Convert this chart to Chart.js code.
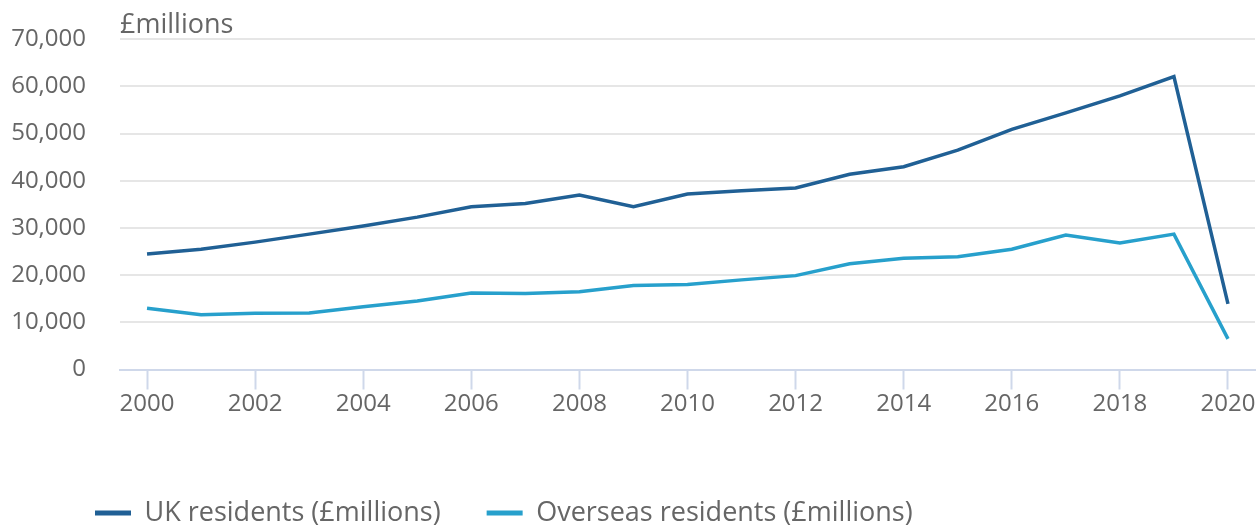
<!DOCTYPE html>
<html>
<head>
<meta charset="utf-8">
<script src="https://cdn.jsdelivr.net/npm/chart.js@4"></script>
<style>
  html, body { margin: 0; padding: 0; background: #fff; }
  #wrap { width: 1259px; height: 526px; position: relative; }
</style>
</head>
<body>
<div id="wrap"><canvas id="c"></canvas></div>
<script>
const years = ['2000','2001','2002','2003','2004','2005','2006','2007','2008','2009','2010',
               '2011','2012','2013','2014','2015','2016','2017','2018','2019','2020'];
const ukResidents = [24500, 25500, 27000, 28700, 30400, 32300, 34500, 35200, 37000, 34500, 37200,
                     37900, 38500, 41400, 43000, 46500, 50900, 54400, 58000, 62100, 13900];
const overseasResidents = [13000, 11600, 11900, 12000, 13300, 14500, 16200, 16100, 16500, 17800, 18000,
                           19000, 19900, 22400, 23600, 23900, 25500, 28500, 26800, 28700, 6500];
const seriesNames = ['UK residents (£millions)', 'Overseas residents (£millions)'];
const yUnitLabel = '£millions';
const yTicks = { min: 0, max: 70000, step: 10000 };

const FONT = 'Open Sans';
const TEXT = '#666666';
const AXIS = '#cfd8ea';

const unitLabelPlugin = {
  id: 'unitLabel',
  afterLayout(chart) {
    if (chart.legend) { chart.legend.left = 49; }
  },
  afterDraw(chart) {
    const ctx = chart.ctx;
    ctx.save();
    ctx.font = `27px "${FONT}"`;
    ctx.fillStyle = TEXT;
    ctx.textAlign = 'left';
    ctx.textBaseline = 'alphabetic';
    ctx.fillText(yUnitLabel, chart.chartArea.left, 33);
    ctx.restore();
  }
};

new Chart(document.getElementById('c'), {
  type: 'line',
  data: {
    labels: years,
    datasets: [
      { label: seriesNames[0], data: ukResidents, borderColor: '#206095', backgroundColor: '#206095',
        borderWidth: 3.5, pointRadius: 0, tension: 0 },
      { label: seriesNames[1], data: overseasResidents, borderColor: '#27a0cc', backgroundColor: '#27a0cc',
        borderWidth: 3.5, pointRadius: 0, tension: 0 }
    ]
  },
  options: {
    responsive: true,
    maintainAspectRatio: false,
    animation: false,
    locale: 'en-GB',
    layout: { autoPadding: false, padding: { left: 0, right: 4, top: 39.3, bottom: -10.5 } },
    scales: {
      x: {
        type: 'category',
        offset: true,
        afterFit(scale) { scale.height = 84; },
        grid: {
          drawOnChartArea: false,
          drawTicks: true,
          tickLength: 20,
          tickWidth: 2,
          tickColor: (ctx) => (ctx.index % 2 === 0 ? AXIS : 'rgba(0,0,0,0)')
        },
        border: { display: true, color: AXIS, width: 2 },
        ticks: {
          autoSkip: false,
          maxRotation: 0,
          padding: 0,
          color: TEXT,
          font: { family: FONT, size: 24 },
          callback(value, index) { return index % 2 === 0 ? this.getLabelForValue(value) : ''; }
        }
      },
      y: {
        min: yTicks.min,
        max: yTicks.max,
        afterFit(scale) { scale.width = 120; },
        grid: { color: '#e6e6e6', lineWidth: 2, drawTicks: true, tickLength: 34, tickColor: 'rgba(0,0,0,0)' },
        border: { display: false },
        ticks: {
          stepSize: yTicks.step,
          padding: 0,
          color: TEXT,
          font: { family: FONT, size: 24 }
        }
      }
    },
    plugins: {
      legend: {
        position: 'bottom',
        align: 'start',
        labels: {
          boxWidth: 36,
          boxHeight: 5,
          padding: 46,
          color: TEXT,
          font: { family: FONT, size: 27 },
          generateLabels(chart) {
            return Chart.defaults.plugins.legend.labels.generateLabels(chart)
              .map(l => ({ ...l, lineWidth: 0, fillStyle: l.strokeStyle }));
          }
        }
      },
      tooltip: { enabled: false }
    }
  },
  plugins: [unitLabelPlugin]
});
</script>
</body>
</html>
